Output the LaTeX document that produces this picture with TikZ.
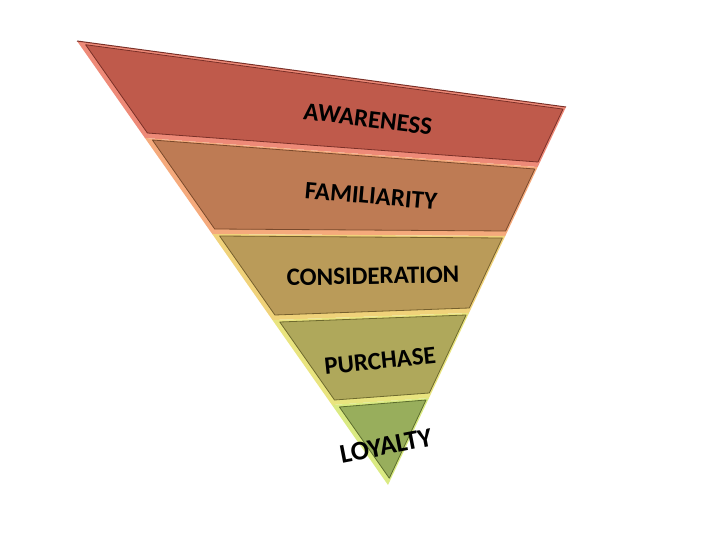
\documentclass[tikz,border=0pt]{standalone}
\usepackage{fontspec}
\setmainfont{Carlito}
\definecolor{rimA}{HTML}{EE8A78}\definecolor{mainA}{HTML}{BF5A4B}\definecolor{edgeA}{HTML}{7A3028}
\definecolor{rimB}{HTML}{F5AA7C}\definecolor{mainB}{HTML}{BE7B54}\definecolor{edgeB}{HTML}{7A4A2C}
\definecolor{rimC}{HTML}{F0D27A}\definecolor{mainC}{HTML}{BA9B59}\definecolor{edgeC}{HTML}{76602E}
\definecolor{rimD}{HTML}{E9E47F}\definecolor{mainD}{HTML}{AFA85B}\definecolor{edgeD}{HTML}{6E6A2E}
\definecolor{rimE}{HTML}{DAEA82}\definecolor{mainE}{HTML}{98AE5C}\definecolor{edgeE}{HTML}{5C6E2E}
\tikzset{
  rim/.style={fill=#1, draw=none},
  inner/.style={fill=main#1, draw=edge#1, line width=0.8pt, line join=round},
  lbl/.style={font=\bfseries\fontsize{25}{30}\selectfont, text=black, inner sep=0pt}
}
\begin{document}
\begin{tikzpicture}[x=1pt,y=-1pt]
\useasboundingbox[fill=white] (0,0) rectangle (720,540);
% Band 1: Awareness
\fill[rimA] (77,41) -- (566,107) -- (537.7,167) -- (144.9,138) -- cycle;
\draw[inner=A] (85.6,44.7) -- (563,109.1) -- (538,162) -- (147.4,133) -- cycle;
\draw[edgeA, line width=1pt] (77,41) -- (566,107);
% Band 2: Familiarity
\fill[rimB] (144.9,138) -- (537.7,167) -- (505.3,236) -- (212.2,234) -- cycle;
\draw[inner=B] (152.4,140) -- (534.8,169) -- (505.6,231) -- (214.7,229) -- cycle;
% Band 3: Consideration
\fill[rimC] (212.2,234) -- (505.3,236) -- (469,313) -- (272.4,320) -- cycle;
\draw[inner=C] (219.6,236) -- (502.3,238) -- (469.3,308) -- (274.9,315) -- cycle;
% Band 4: Purchase
\fill[rimD] (272.4,320) -- (469,313) -- (429,398) -- (332,405) -- cycle;
\draw[inner=D] (279.8,322) -- (466.1,315) -- (429.3,393) -- (334.5,400) -- cycle;
% Band 5: Loyalty
\fill[rimE] (332,405) -- (429,398) -- (388,485) -- cycle;
\draw[inner=E] (339.4,407) -- (426,400) -- (389.3,478.2) -- cycle;
% Labels
\node[lbl, rotate=-7] (aw) at (368,119) {AWARENESS};
\node[lbl, rotate=-5] (fa) at (371,196) {FAMILIARITY};
\node[lbl, rotate=1] (co) at (373,276) {CONSIDERATION};
\node[lbl, rotate=6] (pu) at (380,361) {PURCHASE};
\node[lbl, rotate=11, font=\bfseries\fontsize{27}{32}\selectfont] (lo) at (386,446) {LOYALTY};
\end{tikzpicture}
\end{document}
